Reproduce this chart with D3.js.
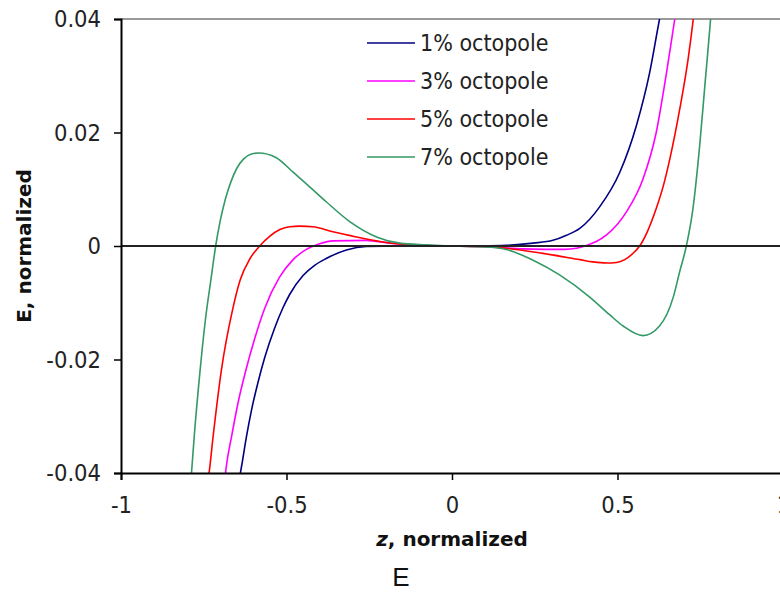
<!DOCTYPE html>
<html>
<head>
<meta charset="utf-8">
<script src="https://cdn.jsdelivr.net/npm/d3@7"></script>
<style>
  body { margin: 0; background: #fff; }
  svg { display: block; }
  .tick text { font-family: 'DejaVu Sans Condensed', 'Liberation Sans Narrow', 'Liberation Sans', Arial, sans-serif; font-stretch: condensed; font-size: 23.5px; fill: #222; }
  .legend text { font-family: 'DejaVu Sans Condensed', 'Liberation Sans Narrow', 'Liberation Sans', Arial, sans-serif; font-stretch: condensed; font-size: 23px; fill: #222; }
  .title { font-family: 'DejaVu Sans', sans-serif; font-weight: bold; font-size: 20px; fill: #111; }
</style>
</head>
<body>
<svg id="chart" width="780" height="592"></svg>
<script>
// values: [z, E]
const seriesNames = ['1% octopole', '3% octopole', '5% octopole', '7% octopole'];
const seriesColors = ['#000080', '#ff00ff', '#ff0000', '#339966'];

const oct1 = [
  [-0.640, -0.0402], [-0.636, -0.0389], [-0.621, -0.0336], [-0.606, -0.0290], [-0.586, -0.0240],
  [-0.566, -0.0197], [-0.536, -0.0145], [-0.510, -0.0108], [-0.490, -0.0085], [-0.450, -0.0052],
  [-0.415, -0.0034], [-0.380, -0.0022], [-0.319, -0.0007], [-0.259, -0.0001], [-0.150, 0.0000],
  [0.000, 0.0000], [0.150, 0.0001], [0.245, 0.0005], [0.305, 0.0010], [0.346, 0.0019],
  [0.386, 0.0031], [0.446, 0.0069], [0.507, 0.0130], [0.557, 0.0212], [0.597, 0.0305],
  [0.627, 0.0400], [0.632, 0.0415]
];
const oct3 = [
  [-0.686, -0.0410], [-0.682, -0.0389], [-0.666, -0.0336], [-0.647, -0.0278], [-0.621, -0.0215],
  [-0.596, -0.0163], [-0.566, -0.0110], [-0.521, -0.0055], [-0.480, -0.0024], [-0.440, -0.0006],
  [-0.400, 0.0004], [-0.360, 0.0009], [-0.259, 0.0010], [-0.188, 0.0005], [-0.100, 0.0001],
  [0.000, 0.0000], [0.100, -0.0001], [0.215, -0.0005], [0.340, -0.0006], [0.376, -0.0004],
  [0.406, 0.0001], [0.436, 0.0008], [0.466, 0.0019], [0.527, 0.0060], [0.577, 0.0118],
  [0.617, 0.0200], [0.648, 0.0305], [0.673, 0.0400], [0.677, 0.0415]
];
const oct5 = [
  [-0.738, -0.0415], [-0.734, -0.0400], [-0.722, -0.0337], [-0.697, -0.0220], [-0.662, -0.0110],
  [-0.640, -0.0060], [-0.610, -0.0022], [-0.581, 0.0000], [-0.551, 0.0017], [-0.520, 0.0029],
  [-0.490, 0.0034], [-0.460, 0.0035], [-0.420, 0.0034], [-0.360, 0.0025], [-0.289, 0.0016],
  [-0.218, 0.0008], [-0.148, 0.0003], [-0.080, 0.0001], [0.000, 0.0000], [0.080, -0.0001],
  [0.164, -0.0004], [0.275, -0.0013], [0.386, -0.0024], [0.426, -0.0028], [0.466, -0.0030],
  [0.497, -0.0029], [0.522, -0.0024], [0.545, -0.0014], [0.567, 0.0000], [0.590, 0.0025],
  [0.617, 0.0066], [0.638, 0.0105], [0.658, 0.0153], [0.688, 0.0241], [0.713, 0.0328],
  [0.729, 0.0400], [0.732, 0.0415]
];
const oct7 = [
  [-0.789, -0.0415], [-0.787, -0.0400], [-0.778, -0.0330], [-0.762, -0.0225], [-0.745, -0.0130],
  [-0.728, -0.0058], [-0.714, 0.0000], [-0.700, 0.0045], [-0.685, 0.0082], [-0.668, 0.0113],
  [-0.650, 0.0137], [-0.630, 0.0153], [-0.606, 0.0162], [-0.584, 0.0164], [-0.532, 0.0156],
  [-0.480, 0.0130], [-0.435, 0.0107], [-0.380, 0.0078], [-0.309, 0.0043], [-0.228, 0.0016],
  [-0.158, 0.0005], [-0.077, 0.0002], [0.000, 0.0000], [0.134, -0.0003], [0.245, -0.0025],
  [0.325, -0.0051], [0.416, -0.0090], [0.476, -0.0121], [0.517, -0.0141], [0.577, -0.0158],
  [0.627, -0.0141], [0.668, -0.0091], [0.688, -0.0045], [0.708, 0.0000], [0.728, 0.0066],
  [0.748, 0.0175], [0.765, 0.0290], [0.782, 0.0405], [0.784, 0.0420]
];
const allSeries = [oct1, oct3, oct5, oct7];

const xTicks = [-1, -0.5, 0, 0.5, 1];
const yTicks = [-0.04, -0.02, 0, 0.02, 0.04];

function drawChart() {
    const svg = d3.select('#chart');
    const plot = { left: 121, right: 783, top: 19, bottom: 473 };

    const x = d3.scaleLinear().domain([-1, 1]).range([plot.left, plot.right]);
    const y = d3.scaleLinear().domain([-0.04, 0.04]).range([plot.bottom, plot.top]);

    svg.append('clipPath').attr('id', 'plotClip')
        .append('rect')
        .attr('x', plot.left).attr('y', plot.top)
        .attr('width', plot.right - plot.left).attr('height', plot.bottom - plot.top);

    // top border of plot area
    svg.append('line')
        .attr('x1', plot.left).attr('x2', plot.right)
        .attr('y1', plot.top).attr('y2', plot.top)
        .attr('stroke', '#9a9a9a').attr('stroke-width', 2);

    // curves
    const line = d3.line()
        .x(d => x(d[0]))
        .y(d => y(d[1]))
        .curve(d3.curveMonotoneX);

    svg.append('g').attr('clip-path', 'url(#plotClip)')
        .selectAll('path')
        .data(allSeries)
        .enter()
        .append('path')
        .attr('d', line)
        .attr('fill', 'none')
        .attr('stroke', (d, i) => seriesColors[i])
        .attr('stroke-width', 1.6);

    // zero line
    svg.append('line')
        .attr('x1', plot.left).attr('x2', plot.right)
        .attr('y1', y(0)).attr('y2', y(0))
        .attr('stroke', '#222').attr('stroke-width', 2);

    // axes
    const yAxis = svg.append('g')
        .attr('transform', `translate(${plot.left},0)`)
        .call(d3.axisLeft(y).tickValues(yTicks).tickSize(7).tickPadding(13)
            .tickFormat(d => d === 0 ? '0' : d3.format('.2f')(d).replace('−', '-')));
    yAxis.select('.domain').attr('stroke', '#000').attr('stroke-width', 2);
    yAxis.selectAll('.tick line').attr('stroke', '#000').attr('stroke-width', 1.5);

    const xAxis = svg.append('g')
        .attr('transform', `translate(0,${plot.bottom})`)
        .call(d3.axisBottom(x).tickValues(xTicks).tickSize(7).tickPadding(16)
            .tickFormat(d => String(d)));
    xAxis.select('.domain').attr('stroke', '#000').attr('stroke-width', 2);
    xAxis.selectAll('.tick line').attr('stroke', '#000').attr('stroke-width', 1.5);

    // axis titles
    const xt = svg.append('text').attr('class', 'title')
        .attr('x', x(0)).attr('y', 546).attr('text-anchor', 'middle');
    xt.append('tspan').attr('font-style', 'italic').text('z');
    xt.append('tspan').text(', normalized');

    svg.append('text').attr('class', 'title')
        .attr('transform', `translate(31,${y(0)}) rotate(-90)`)
        .attr('text-anchor', 'middle')
        .text('E, normalized');

    svg.append('text')
        .attr('x', 401).attr('y', 586)
        .attr('text-anchor', 'middle')
        .attr('font-family', 'Liberation Sans, Arial, sans-serif')
        .attr('font-size', 26)
        .attr('fill', '#111')
        .text('E');

    // legend
    const legend = svg.append('g').attr('class', 'legend');
    const rows = legend.selectAll('g')
        .data(seriesNames)
        .enter()
        .append('g')
        .attr('transform', (d, i) => `translate(367,${43 + i * 38})`);
    rows.append('line')
        .attr('x1', 0).attr('x2', 48)
        .attr('stroke', (d, i) => seriesColors[i])
        .attr('stroke-width', 1.6);
    rows.append('text')
        .attr('x', 53).attr('dy', '0.35em')
        .text(d => d);
}

document.addEventListener('DOMContentLoaded', drawChart);
</script>
</body>
</html>
